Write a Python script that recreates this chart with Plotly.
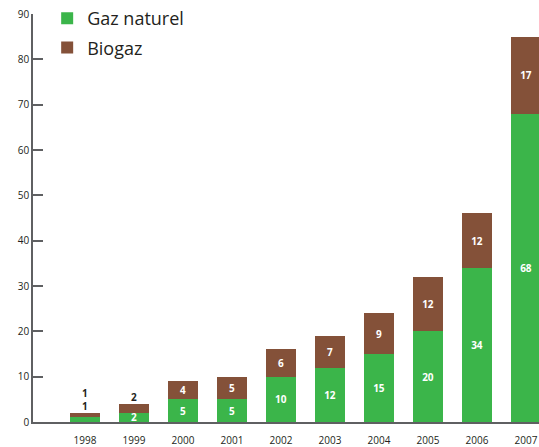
import plotly.graph_objects as go

years = [1998, 1999, 2000, 2001, 2002, 2003, 2004, 2005, 2006, 2007]
gaz_naturel = [1, 2, 5, 5, 10, 12, 15, 20, 34, 68]
biogaz = [1, 2, 4, 5, 6, 7, 9, 12, 12, 17]
y_ticks = [0, 10, 20, 30, 40, 50, 60, 70, 80, 90]

GREEN = "#3bb54a"
BROWN = "#845139"
AXIS = "#5f6062"
FONT = "Open Sans"

# labels too small to fit inside a segment are put above the bar
small = 3

gaz_text = [str(v) if v >= 2 else "" for v in gaz_naturel]
bio_text = [str(v) if v >= small else "" for v in biogaz]

fig = go.Figure()
fig.add_trace(go.Bar(
    x=years, y=gaz_naturel, name="Gaz naturel", marker_color=GREEN,
    marker_line_width=0,
    text=gaz_text, textposition="inside", insidetextanchor="middle",
    constraintext="none", textangle=0, width=0.63,
    textfont=dict(color="white", size=10, family=FONT, weight="bold"),
    legendgroup="a",
))
fig.add_trace(go.Bar(
    x=years, y=biogaz, name="Biogaz", marker_color=BROWN,
    marker_line_width=0,
    text=bio_text, textposition="inside", insidetextanchor="middle",
    constraintext="none", textangle=0, width=0.63,
    textfont=dict(color="white", size=10, family=FONT, weight="bold"),
    legendgroup="b",
))

annotations = []
for yr, g, b in zip(years, gaz_naturel, biogaz):
    top = g + b
    stack = []
    if b < small:
        stack.append(b)
    if g < 2:
        stack.append(g)
    for i, v in enumerate(stack):
        annotations.append(dict(
            x=yr, y=top, text=str(v), showarrow=False, yanchor="bottom",
            yshift=-2 + i * 13,
            font=dict(color="#231f20", size=10, family=FONT, weight="bold"),
        ))

fig.update_layout(
    barmode="stack",
    width=539, height=447,
    margin=dict(l=33, r=0, t=14, b=25),
    paper_bgcolor="white", plot_bgcolor="white",
    annotations=annotations,
    legend=dict(
        x=0.028, y=1.035, xanchor="left", yanchor="top",
        font=dict(size=18, family=FONT, color="#231f20"),
        traceorder="grouped", tracegroupgap=3,
        bgcolor="rgba(0,0,0,0)",
    ),
    xaxis=dict(
        range=[1996.94, 2007.265], tickmode="array", tickvals=years,
        ticktext=[str(y) for y in years],
        showline=True, linecolor=AXIS, linewidth=1.5, ticks="",
        showgrid=False, zeroline=False, ticklabelstandoff=8,
        tickfont=dict(size=10, family=FONT, color="#231f20"),
    ),
    yaxis=dict(
        range=[0, 90], tickmode="array", tickvals=y_ticks,
        showline=True, linecolor=AXIS, linewidth=1.5,
        ticks="inside", ticklen=10, tickcolor=AXIS, tickwidth=1.5,
        showgrid=False, zeroline=False,
        tickfont=dict(size=10, family=FONT, color="#231f20"),
    ),
)

fig.write_html(
    "out.html",
    config={"displayModeBar": False},
    post_script="document.body.style.margin='0';document.body.style.overflow='hidden';",
)
